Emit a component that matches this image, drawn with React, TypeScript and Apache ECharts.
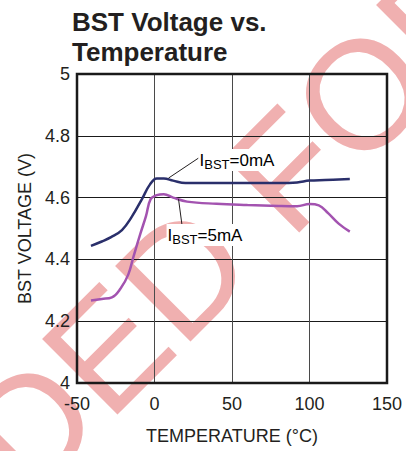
import React, { useEffect, useRef } from "react";
import * as echarts from "echarts";

const temps0 = [-41, -34, -28, -21, -15, -8, -3, 1.5, 6, 12, 20, 40, 60, 80, 92, 100, 110, 126];
const volts0 = [4.444, 4.458, 4.472, 4.495, 4.535, 4.596, 4.642, 4.662, 4.662, 4.655, 4.647, 4.647, 4.647, 4.647, 4.649, 4.655, 4.657, 4.660];
const temps5 = [-41, -34, -27.5, -22, -17, -13.5, -9, -5.5, -2.5, 1.5, 6, 12, 21, 40, 60, 80, 92, 100, 106, 112, 119, 126];
const volts5 = [4.267, 4.272, 4.277, 4.305, 4.35, 4.41, 4.485, 4.54, 4.595, 4.608, 4.611, 4.6, 4.587, 4.58, 4.576, 4.573, 4.572, 4.579, 4.575, 4.55, 4.515, 4.49];
const xTicks = [-50, 0, 50, 100, 150];
const yTicks = [4, 4.2, 4.4, 4.6, 4.8, 5];
const seriesNames = ["IBST=0mA", "IBST=5mA"];
const watermark = ["NOT RECOMMENDED", "FOR NEW DESIGNS"];

const FONT = "'Liberation Sans', Arial, Helvetica, sans-serif";
const INK = "#231f20";

export default function App() {
  const ref = useRef<HTMLDivElement>(null);
  useEffect(() => {
    const chart = echarts.init(ref.current!, null, { renderer: "svg" });
    const option: any = {
      animation: false,
      title: {
        text: "BST Voltage vs.\nTemperature",
        left: 72,
        top: 7,
        padding: 0,
        textStyle: { fontSize: 26, fontWeight: "bold", lineHeight: 30, color: INK, fontFamily: FONT },
      },
      grid: {
        left: 77,
        right: 19,
        top: 74,
        bottom: 68,
        show: true,
        borderColor: "#1a1a1a",
        borderWidth: 2.5,
        backgroundColor: "transparent",
        z: 3,
      },
      xAxis: {
        type: "value",
        min: xTicks[0],
        max: xTicks[xTicks.length - 1],
        interval: 50,
        name: "TEMPERATURE (°C)",
        nameLocation: "middle",
        nameGap: 44,
        nameTextStyle: { fontSize: 18, color: INK, fontFamily: FONT },
        axisLine: { show: false },
        axisTick: { show: false },
        axisLabel: { fontSize: 18, color: INK, fontFamily: FONT, margin: 12 },
        splitLine: { show: true, lineStyle: { color: "#4a4a4a", width: 1 } },
      },
      yAxis: {
        type: "value",
        min: yTicks[0],
        max: yTicks[yTicks.length - 1],
        interval: 0.2,
        name: "BST VOLTAGE (V)",
        nameLocation: "middle",
        nameGap: 41,
        nameTextStyle: { fontSize: 18, color: INK, fontFamily: FONT },
        axisLine: { show: false },
        axisTick: { show: false },
        axisLabel: { fontSize: 18, color: INK, fontFamily: FONT, margin: 7 },
        splitLine: { show: true, lineStyle: { color: "#1a1a1a", width: 1 } },
      },
      series: [
        {
          name: seriesNames[0],
          type: "line",
          data: temps0.map((t, i) => [t, volts0[i]]),
          smooth: 0.4,
          showSymbol: false,
          lineStyle: { color: "#2a2f6b", width: 2.5 },
          z: 5,
        },
        {
          name: seriesNames[1],
          type: "line",
          data: temps5.map((t, i) => [t, volts5[i]]),
          smooth: 0.4,
          showSymbol: false,
          lineStyle: { color: "#a353b0", width: 2.5 },
          z: 5,
        },
      ],
    };
    chart.setOption(option);

    const px = (t: number, v: number) => chart.convertToPixel({ gridIndex: 0 }, [t, v]) as number[];
    // annotation anchors in data coordinates
    const a0 = px(9, 4.663);
    const b0 = px(28.4, 4.728);
    const a5 = px(15.5, 4.595);
    const b5 = px(18.1, 4.498);

    const rich = {
      i: { fontSize: 17, fontFamily: FONT, color: INK, lineHeight: 20 },
      s: { fontSize: 13, fontFamily: FONT, color: INK, lineHeight: 20, padding: [9, 0, 0, 0] },
    };

    const WM = 155;
    const wmStyle = {
      font: `${WM}px ${FONT}`,
      fill: "#f0b0b0",
      verticalAlign: "middle",
    };

    chart.setOption({
      graphic: [
        {
          type: "group",
          x: 276,
          y: 257,
          rotation: Math.PI / 4,
          z: -10,
          silent: true,
          children: [
            { type: "text", x: -21, y: -0.35 * WM, z: -10, style: { ...wmStyle, text: watermark[0], align: "right" } },
            { type: "text", x: 21, y: -0.35 * WM, z: -10, style: { ...wmStyle, text: watermark[1], align: "left" } },
          ],
        },
        {
          type: "line",
          z: 20,
          shape: { x1: a0[0], y1: a0[1], x2: b0[0], y2: b0[1] },
          style: { stroke: INK, lineWidth: 1 },
        },
        {
          type: "line",
          z: 20,
          shape: { x1: a5[0], y1: a5[1], x2: b5[0], y2: b5[1] },
          style: { stroke: INK, lineWidth: 1 },
        },
        {
          type: "text",
          z: 20,
          x: b0[0],
          y: b0[1] - 9,
          style: {
            text: "{i|I}{s|BST}{i|=0mA}",
            rich,
            backgroundColor: "#ffffff",
            padding: [1, 2, 1, 1],
            verticalAlign: "top",
            align: "left",
          },
        },
        {
          type: "text",
          z: 20,
          x: b5[0] - 16,
          y: b5[1] - 5,
          style: {
            text: "{i|I}{s|BST}{i|=5mA}",
            rich,
            backgroundColor: "#ffffff",
            padding: [1, 2, 1, 1],
            verticalAlign: "top",
            align: "left",
          },
        },
      ],
    });
    return () => chart.dispose();
  }, []);
  return <div ref={ref} style={{ position: "absolute", left: 0, top: 0, width: 406, height: 451 }} />;
}
